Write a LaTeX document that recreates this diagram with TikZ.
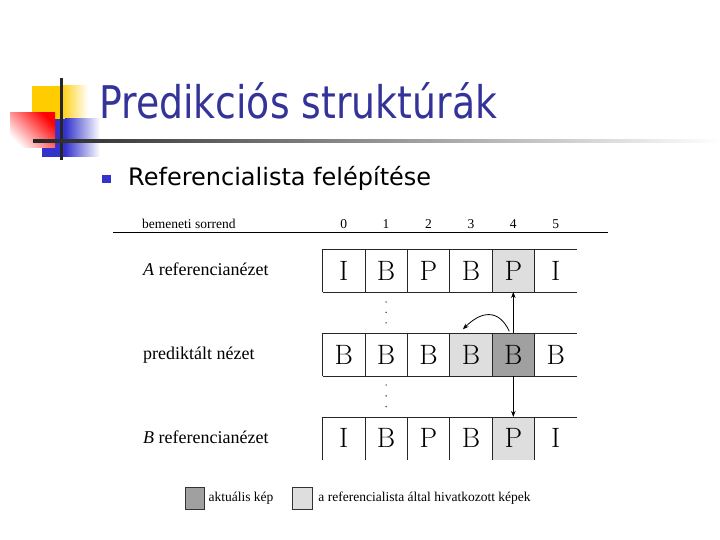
\documentclass[tikz,border=0pt]{standalone}
\usepackage{fontspec}
\usepackage{tikz}
\usetikzlibrary{arrows.meta,positioning,calc}
\newfontfamily\slidefont[FakeStretch=0.84]{DejaVu Sans}
\newfontfamily\bodyfont{DejaVu Sans}
\newfontfamily\timesfont{Liberation Serif}
\definecolor{titleblue}{RGB}{51,51,153}
\definecolor{bulletblue}{RGB}{51,51,204}
\definecolor{logoyellow}{RGB}{255,204,0}
\definecolor{logored}{RGB}{255,0,0}
\definecolor{curgray}{RGB}{160,160,160}
\definecolor{refgray}{RGB}{222,222,222}

\tikzset{
  cell/.style={minimum width=42.4pt, minimum height=42.7pt, inner sep=0pt, outer sep=0pt, font=\fontsize{28}{28}\selectfont},
  current/.style={cell, fill=curgray},
  referred/.style={cell, fill=refgray},
  rowlabel/.style={anchor=base west, inner sep=0pt, font=\timesfont\fontsize{18}{20}\selectfont},
  smalltext/.style={inner sep=0pt, font=\timesfont\fontsize{13.5}{15}\selectfont},
  keybox/.style={draw=black!80, minimum width=19.7pt, minimum height=22pt, inner sep=0pt},
  gridline/.style={line width=0.8pt, black!85},
  refarrow/.style={line width=0.8pt, -{Stealth[length=6pt,width=4.5pt]}},
  dotcol/.style={line width=1.7pt, line cap=round, black!70},
}

\begin{document}
\begin{tikzpicture}[x=1pt,y=1pt]
	\useasboundingbox (0,0) rectangle (720,540);
	% slide logo
	\fill[logoyellow] (32,421) rectangle (60,454.3);
	\shade[left color=logoyellow, right color=white] (60,421) rectangle (88,454.3);
	\fill[bulletblue] (42,383) rectangle (65,421);
	\shade[left color=bulletblue, right color=white] (65,383) rectangle (100,421);
	\shade[top color=logored, bottom color=white, shading angle=-45] (10,392) rectangle (55,427);
	\draw[line width=3pt, black!85] (61.3,380) -- (61.3,462);
	\shade[left color=black!85, right color=white] (33,397.6) rectangle (720,400.4);
	
	\node[anchor=base west, inner sep=0pt, text=titleblue, font=\slidefont\fontsize{45}{45}\selectfont] (title) at (99,421.3) {Predikciós struktúrák};
	\fill[bulletblue] (101.7,357) rectangle (110.7,365);
	\node[anchor=base west, inner sep=0pt, font=\bodyfont\fontsize{24}{24}\selectfont] (subtitle) at (128,354) {Referencialista felépítése};
	
	% header
	\node[smalltext, anchor=base west] (order) at (142,311) {bemeneti sorrend};
	\draw[line width=0.8pt] (113,307.3) -- (608,307.3);
	\node[smalltext, anchor=base] (n0) at (343.7,311) {0};
	\node[smalltext, anchor=base] (n1) at (386.1,311) {1};
	\node[smalltext, anchor=base] (n2) at (428.5,311) {2};
	\node[smalltext, anchor=base] (n3) at (470.9,311) {3};
	\node[smalltext, anchor=base] (n4) at (513.3,311) {4};
	\node[smalltext, anchor=base] (n5) at (555.7,311) {5};
	
	% A view
	\node[cell] (a0) at (343.7,269.35) {I};
	\node[cell, right=0pt of a0] (a1) {B};
	\node[cell, right=0pt of a1] (a2) {P};
	\node[cell, right=0pt of a2] (a3) {B};
	\node[referred, right=0pt of a3] (a4) {P};
	\node[cell, right=0pt of a4] (a5) {I};
	
	% predicted view
	\node[cell] (p0) at (343.7,185.35) {B};
	\node[cell, right=0pt of p0] (p1) {B};
	\node[cell, right=0pt of p1] (p2) {B};
	\node[referred, right=0pt of p2] (p3) {B};
	\node[current, right=0pt of p3] (p4) {B};
	\node[cell, right=0pt of p4] (p5) {B};
	
	% B view
	\node[cell] (b0) at (343.7,101.7) {I};
	\node[cell, right=0pt of b0] (b1) {B};
	\node[cell, right=0pt of b1] (b2) {P};
	\node[cell, right=0pt of b2] (b3) {B};
	\node[referred, right=0pt of b3] (b4) {P};
	\node[cell, right=0pt of b4] (b5) {I};
	
	\draw[gridline] (a0.north west) -- (a5.north east) (a0.south west) -- (a5.south east);
	\draw[gridline] (p0.north west) -- (p5.north east) (p0.south west) -- (p5.south east);
	\draw[gridline] (b0.north west) -- (b5.north east);
	\foreach \r in {a,p,b}
		\foreach \i in {0,...,5}
			\draw[gridline] (\r\i.north west) -- (\r\i.south west);
	
	\node[rowlabel] (alabel) at (143,264.5) {\textit{A} referencianézet};
	\node[rowlabel] (plabel) at (143,180.3) {prediktált nézet};
	\node[rowlabel] (blabel) at (143,96.3) {\textit{B} referencianézet};
	
	\draw[dotcol, dash pattern=on 0pt off 10.4pt] ([yshift=-10pt]a1.south) -- ([yshift=-31pt]a1.south);
	\draw[dotcol, dash pattern=on 0pt off 10.8pt] ([yshift=-9pt]p1.south) -- ([yshift=-31pt]p1.south);
	
	\draw[refarrow] (p4.north) -- (a4.south);
	\draw[refarrow] ([xshift=-4pt,yshift=2pt]p4.north) to[out=115, in=45, looseness=1.4] ([xshift=-8pt,yshift=4pt]p3.north);
	\draw[refarrow] (p4.south) -- (b4.north);
	
	% legend
	\node[keybox, fill=curgray] (curkey) at (194.8,42) {};
	\node[smalltext, right=3.5pt of curkey] (curtext) {aktuális kép};
	\node[keybox, fill=refgray] (refkey) at (302.2,42) {};
	\node[smalltext, right=6pt of refkey] (reftext) {a referencialista által hivatkozott képek};
\end{tikzpicture}
\end{document}
